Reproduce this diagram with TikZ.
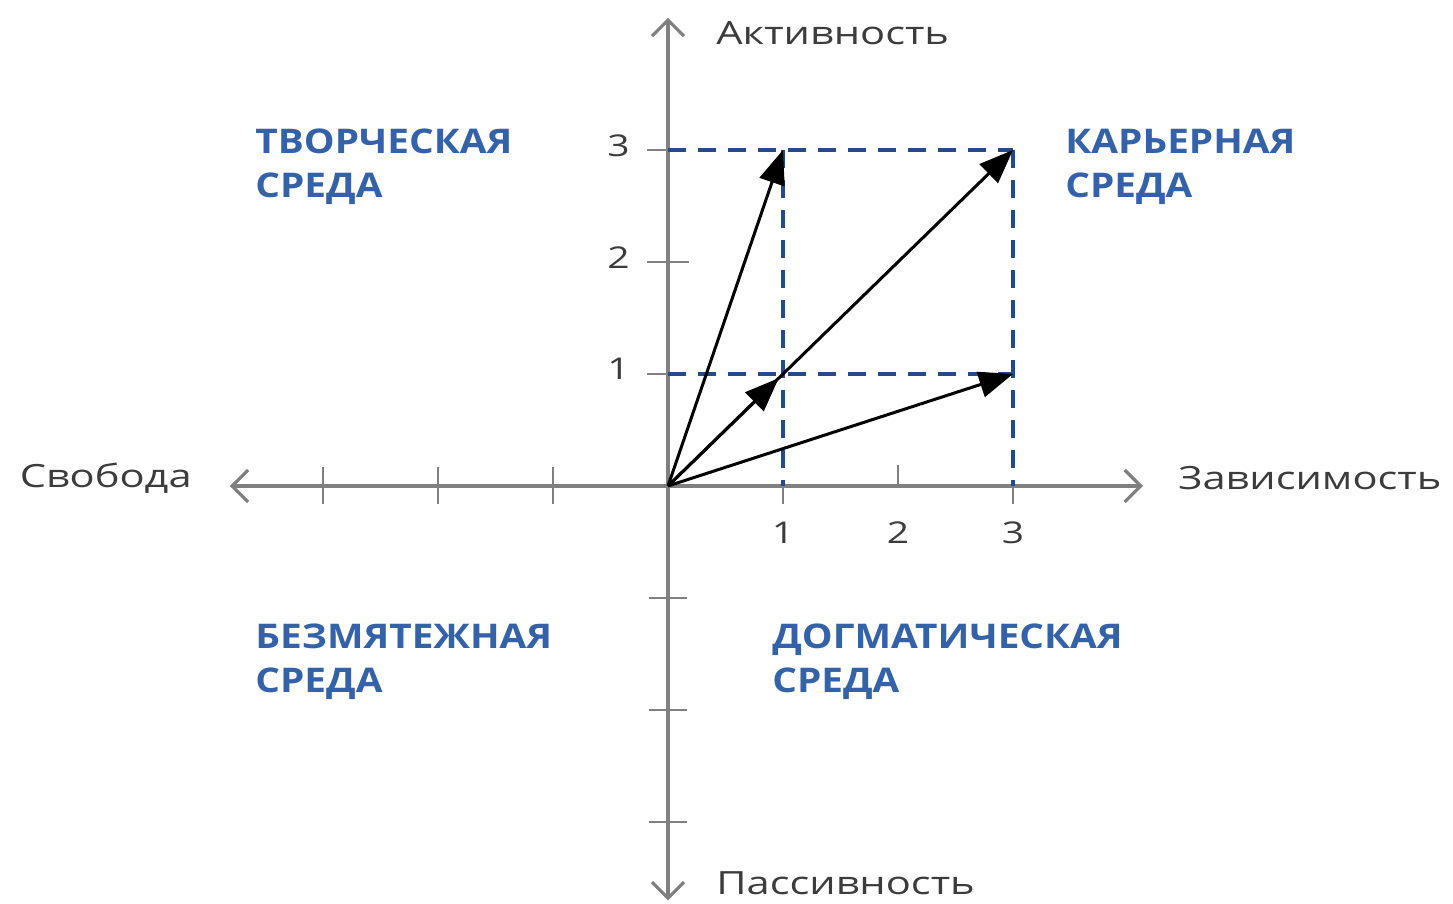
\documentclass[tikz,border=0pt]{standalone}
\usepackage{fontspec}
\setmainfont{Open Sans}
\newfontfamily\axfont[FakeStretch=1.3]{Open Sans}
\newfontfamily\quadfont[FakeStretch=1.14]{Open Sans}
\usepackage{tikz}
\usetikzlibrary{positioning,arrows.meta}
\definecolor{axisc}{RGB}{128,128,128}
\definecolor{gridc}{RGB}{35,75,135}
\definecolor{quadc}{RGB}{52,98,168}
\definecolor{textc}{RGB}{60,60,60}
\tikzset{
  axis/.style={draw=axisc, line width=1.6pt, {Straight Barb[length=8pt,width=16pt]}-{Straight Barb[length=8pt,width=16pt]}},
  half/.style={draw=axisc, line width=1.6pt, -{Straight Barb[length=8pt,width=16pt]}},
  tick/.style={draw=axisc, line width=0.8pt},
  guide/.style={draw=gridc, line width=1.8pt, dash pattern=on 9pt off 6pt},
  vec/.style={draw=black, line width=1.5pt, -{Triangle[length=17pt,width=13pt]}},
  axlabel/.style={inner sep=0pt, text=textc, font=\axfont\fontsize{16}{19}\selectfont},
  num/.style={inner sep=0pt, text=textc, font=\axfont\fontsize{15}{17}\selectfont},
  quad/.style={inner sep=0pt, align=left, anchor=west, text=quadc, font=\quadfont\fontsize{17}{22}\selectfont\bfseries}
}
\begin{document}
\begin{tikzpicture}[x=57.5pt, y=56pt]
  \useasboundingbox (-5.809,-3.732) rectangle (6.826,4.339);

  % ---- points ----
  \coordinate (O) at (0,0);
  \coordinate (W) at (-3.81,0);
  \coordinate (E) at (4.13,0);
  \coordinate (N) at (0,4.18);
  \coordinate (S) at (0,-3.70);
  \coordinate (p11) at (1,1);
  \coordinate (p13) at (1,3);
  \coordinate (p33) at (3,3);
  \coordinate (p31) at (3,1);
  \coordinate (x1) at (1,0);
  \coordinate (x3) at (3,0);
  \coordinate (y1) at (0,1);
  \coordinate (y3) at (0,3);

  % ---- axes ----
  \draw[axis] (W) -- (E);
  \draw[half] (O) -- (N);
  \draw[half] (O) -- (S);

  % ticks
  \foreach \k in {1,2,3} {
    \draw[tick] (-\k,-0.165) -- (-\k,0.165);
    \draw[tick] (-0.165,-\k) -- (0.165,-\k);
  }
  \draw[tick] (1,0) -- (1,-0.165);
  \draw[tick] (2,0) -- (2,0.19);
  \draw[tick] (3,0) -- (3,-0.165);
  \draw[tick] (-0.18,1) -- (0,1);
  \draw[tick] (-0.18,2) -- (0.18,2);
  \draw[tick] (-0.18,3) -- (0,3);

  % numbers
  \node[num] (n1x) at (1,-0.42) {1};
  \node[num] (n2x) at (2,-0.42) {2};
  \node[num] (n3x) at (3,-0.42) {3};
  \node[num, anchor=east] (n1y) at (-0.33,1.05) {1};
  \node[num, anchor=east] (n2y) at (-0.33,2.04) {2};
  \node[num, anchor=east] (n3y) at (-0.33,3.04) {3};

  % ---- guides ----
  \draw[guide] (y3) -- (p33);
  \draw[guide] (y1) -- (p31);
  \draw[guide] (p13) -- (x1);
  \draw[guide] (p33) -- (x3);

  % ---- vectors ----
  \draw[vec] (O) -- (p13);
  \draw[vec] (O) -- (p33);
  \draw[vec, shorten >=3pt] (O) -- (p11);
  \draw[vec] (O) -- (p31);

  % axis labels
  \node[axlabel, anchor=west] (act) at (0.417,4.045) {Активность};
  \node[axlabel, anchor=west] (pas) at (0.417,-3.545) {Пассивность};
  \node[axlabel, anchor=east] (free) at (-4.139,0.071) {Свобода};
  \node[axlabel, anchor=west] (dep) at (4.435,0.071) {Зависимость};

  % quadrants
  \node[quad] (creative) at (-3.591,2.853) {ТВОРЧЕСКАЯ\\СРЕДА};
  \node[quad] (career) at (3.452,2.853) {КАРЬЕРНАЯ\\СРЕДА};
  \node[quad] (serene) at (-3.591,-1.572) {БЕЗМЯТЕЖНАЯ\\СРЕДА};
  \node[quad] (dogma) at (0.904,-1.572) {ДОГМАТИЧЕСКАЯ\\СРЕДА};
\end{tikzpicture}
\end{document}
